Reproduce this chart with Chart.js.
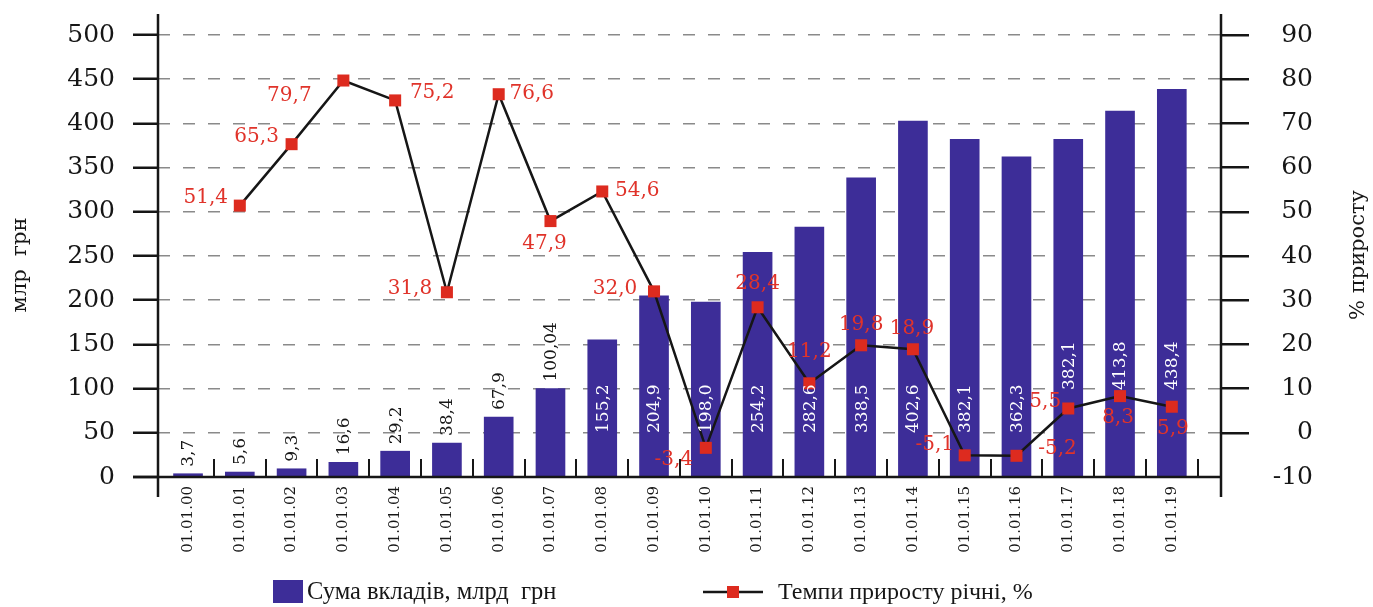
<!DOCTYPE html>
<html lang="uk">
<head>
<meta charset="utf-8">
<title>Вклади населення та темпи приросту</title>
<script src="https://cdn.jsdelivr.net/npm/chart.js@4.4.1/dist/chart.umd.min.js"></script>
<style>
  html, body { margin: 0; padding: 0; background: #ffffff; }
  #wrap { width: 1373px; height: 607px; }
</style>
</head>
<body>
<div id="wrap"><canvas id="c" width="1373" height="607"></canvas></div>
<script>
// ---- data ----
const dateLabels = ['01.01.00', '01.01.01', '01.01.02', '01.01.03', '01.01.04', '01.01.05', '01.01.06',
  '01.01.07', '01.01.08', '01.01.09', '01.01.10', '01.01.11', '01.01.12', '01.01.13', '01.01.14',
  '01.01.15', '01.01.16', '01.01.17', '01.01.18', '01.01.19'];

// deposits, bn UAH
const depositValues = [3.7, 5.6, 9.3, 16.6, 29.2, 38.4, 67.9, 100.04, 155.2, 204.9, 198.0,
  254.2, 282.6, 338.5, 402.6, 382.1, 362.3, 382.1, 413.8, 438.4];

// annual growth, %
const growthValues = [null, 51.4, 65.3, 79.7, 75.2, 31.8, 76.6, 47.9, 54.6, 32.0, -3.4,
  28.4, 11.2, 19.8, 18.9, -5.1, -5.2, 5.5, 8.3, 5.9];

const depositTicks = [0, 50, 100, 150, 200, 250, 300, 350, 400, 450, 500];
const growthTicks = [-10, 0, 10, 20, 30, 40, 50, 60, 70, 80, 90];

// ---- label placement ----
// growth labels: offset of the text centre from the marker, px
const growthLabelOffset = [null, [-34, -8], [-35, -7], [-54, 15], [37, -8], [-37, -3], [33, 0],
  [-6, 23], [35, -1], [-39, -3], [-32, 12], [0, -23], [0, -31], [0, -20], [-1, -20],
  [-30, -11], [41, -7], [-23, -7], [-2, 22], [1, 22]];
// deposit labels: 0 = above the bar, otherwise inside, lifted this many px from the base
const depositLabelLift = [0, 0, 0, 0, 0, 0, 0, 0, 44, 44, 44, 44, 44, 44, 44, 44, 44, 87, 87, 87];

// ---- style ----
const SERIF = '"DejaVu Serif", "Liberation Serif", serif';
const BAR_COLOR = '#3d2d98';
const RED = '#dd2b1f';
const TEXT_RED = '#e0332a';
const INK = '#161616';

function fmt(v) {
  const oneDecimal = Math.abs(Math.round(v * 10) - v * 10) < 1e-9;
  return v.toFixed(oneDecimal ? 1 : 2).replace('.', ',');
}

const barPoints = depositValues.map((v, i) => ({ x: i, y: v }));
const linePoints = growthValues.map((v, i) => ({ x: i, y: v }));

const decor = {
  id: 'decor',
  afterDatasetsDraw(chart) {
    const ctx = chart.ctx;
    // deposit values, rotated
    const barMeta = chart.getDatasetMeta(1);
    ctx.save();
    ctx.font = '17px ' + SERIF;
    barMeta.data.forEach((bar, i) => {
      const lift = depositLabelLift[i];
      let y0, color;
      if (lift === 0) { y0 = bar.y - 7; color = INK; }
      else { y0 = bar.base - lift; color = '#ffffff'; }
      ctx.save();
      ctx.translate(bar.x + 1, y0);
      ctx.rotate(-Math.PI / 2);
      ctx.fillStyle = color;
      ctx.textAlign = 'left';
      ctx.textBaseline = 'middle';
      ctx.fillText(fmt(depositValues[i]), 0, 0);
      ctx.restore();
    });
    ctx.restore();

    // growth values
    const lineMeta = chart.getDatasetMeta(0);
    ctx.save();
    ctx.font = '20px ' + SERIF;
    ctx.fillStyle = TEXT_RED;
    ctx.textAlign = 'center';
    ctx.textBaseline = 'middle';
    lineMeta.data.forEach((pt, i) => {
      if (growthValues[i] === null) return;
      const off = growthLabelOffset[i];
      ctx.fillText(fmt(growthValues[i]), pt.x + off[0], pt.y + off[1]);
    });
    ctx.restore();
  },
  afterDraw(chart) {
    const ctx = chart.ctx;
    const a = chart.chartArea;
    const xs = chart.scales.x;
    ctx.save();
    ctx.strokeStyle = INK;
    ctx.lineWidth = 2.5;
    ctx.beginPath();
    // vertical axes run a little past the plot area
    ctx.moveTo(a.left, a.top - 21); ctx.lineTo(a.left, a.bottom + 20);
    ctx.moveTo(a.right, a.top - 21); ctx.lineTo(a.right, a.bottom + 20);
    // base line
    ctx.moveTo(a.left - 25, a.bottom); ctx.lineTo(a.right, a.bottom);
    ctx.stroke();
    // short marks between dates
    ctx.lineWidth = 2;
    ctx.beginPath();
    for (let i = 0; i < dateLabels.length; i++) {
      const x = Math.round(xs.getPixelForValue(i + 0.5));
      ctx.moveTo(x, a.bottom - 18); ctx.lineTo(x, a.bottom);
    }
    ctx.stroke();

    // axis titles, both reading upwards
    ctx.fillStyle = INK;
    ctx.font = '21px ' + SERIF;
    ctx.textAlign = 'center';
    ctx.textBaseline = 'middle';
    ctx.save();
    ctx.translate(21, 265);
    ctx.rotate(-Math.PI / 2);
    ctx.fillText('млр  грн', 0, 0);
    ctx.restore();
    ctx.save();
    ctx.translate(1359, 255);
    ctx.rotate(-Math.PI / 2);
    ctx.fillText('% приросту', 0, 0);
    ctx.restore();

    // legend
    const ly = 592;
    ctx.fillStyle = BAR_COLOR;
    ctx.fillRect(273, 580, 30, 23);
    ctx.strokeStyle = INK;
    ctx.lineWidth = 2.5;
    ctx.beginPath(); ctx.moveTo(703, ly); ctx.lineTo(763, ly); ctx.stroke();
    ctx.fillStyle = RED;
    ctx.fillRect(727, ly - 6, 12, 12);
    ctx.fillStyle = INK;
    ctx.textAlign = 'left';
    ctx.font = '24.5px "Liberation Serif", serif';
    ctx.fillText('Сума вкладів, млрд  грн', 307, ly + 1);
    ctx.font = '24px "Liberation Serif", serif';
    ctx.fillText('Темпи приросту річні, %', 778, ly + 1);
    ctx.restore();
  }
};

const tickFont = { family: SERIF, size: 25 };

new Chart(document.getElementById('c'), {
  type: 'bar',
  data: {
    datasets: [
      {
        type: 'line',
        label: 'Темпи приросту річні, %',
        data: linePoints,
        yAxisID: 'y1',
        borderColor: INK,
        borderWidth: 2.5,
        pointStyle: 'rect',
        pointRadius: 8.5,
        pointBackgroundColor: RED,
        pointBorderWidth: 0,
        tension: 0,
        order: 0
      },
      {
        type: 'bar',
        label: 'Сума вкладів, млрд  грн',
        data: barPoints,
        yAxisID: 'y',
        backgroundColor: BAR_COLOR,
        barThickness: 29,
        order: 1
      }
    ]
  },
  options: {
    responsive: false,
    animation: false,
    layout: { padding: { top: 35, left: 0, right: 60, bottom: 0 } },
    plugins: { legend: { display: false }, tooltip: { enabled: false } },
    scales: {
      x: {
        type: 'linear',
        offset: false,
        min: -0.58,
        max: 19.95,
        grid: { display: false, drawTicks: false },
        border: { display: false },
        ticks: {
          stepSize: 1,
          includeBounds: false,
          autoSkip: false,
          maxTicksLimit: 40,
          minRotation: 90,
          maxRotation: 90,
          padding: 9,
          color: INK,
          font: { family: SERIF, size: 15 },
          callback: (v) => {
            const k = Math.round(v);
            return Math.abs(v - k) < 1e-6 && dateLabels[k] ? dateLabels[k] : '';
          }
        },
        afterFit: (s) => { s.height = 130; }
      },
      y: {
        position: 'left',
        min: depositTicks[0],
        max: depositTicks[depositTicks.length - 1],
        grid: {
          color: '#8a8a8a',
          lineWidth: (c) => (c.tick && c.tick.value === 0) ? 0 : 1.5,
          drawTicks: true,
          tickLength: 25,
          tickWidth: 2.5,
          tickColor: INK,
          tickBorderDash: []
        },
        border: { display: false, dash: [12, 13] },
        ticks: {
          stepSize: depositTicks[1] - depositTicks[0],
          maxTicksLimit: 40,
          padding: 18,
          color: INK,
          font: tickFont
        },
        afterFit: (s) => { s.width = 158; }
      },
      y1: {
        position: 'right',
        min: growthTicks[0],
        max: growthTicks[growthTicks.length - 1],
        grid: {
          drawOnChartArea: false,
          drawTicks: true,
          tickLength: 28,
          lineWidth: 2.5,
          tickWidth: 2.5,
          tickColor: (c) => (c.tick && c.tick.value === growthTicks[0]) ? 'rgba(0,0,0,0)' : INK
        },
        border: { display: false },
        ticks: {
          stepSize: growthTicks[1] - growthTicks[0],
          maxTicksLimit: 40,
          padding: 8,
          crossAlign: 'far',
          color: INK,
          font: tickFont
        },
        afterFit: (s) => { s.width = 92; }
      }
    }
  },
  plugins: [decor]
});
</script>
</body>
</html>
